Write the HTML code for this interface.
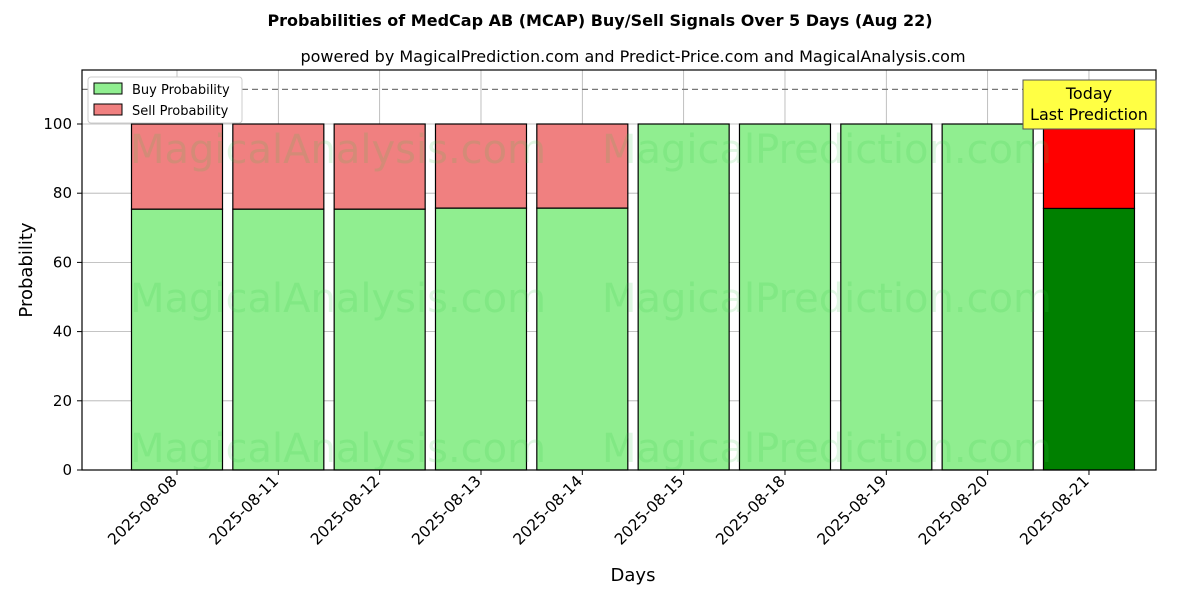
<!DOCTYPE html>
<html><head><meta charset="utf-8"><style>
body{margin:0;background:#fff;}
svg text{font-family:"DejaVu Sans","Liberation Sans",sans-serif;}
</style></head><body>
<svg id="chart" width="1200" height="600" xmlns="http://www.w3.org/2000/svg">
<text x="600" y="26" text-anchor="middle" font-size="16" font-weight="bold">Probabilities of MedCap AB (MCAP) Buy/Sell Signals Over 5 Days (Aug 22)</text>
<text x="633" y="62" text-anchor="middle" font-size="16">powered by MagicalPrediction.com and Predict-Price.com and MagicalAnalysis.com</text>
<g id="grid"></g>
<g id="bars"></g>
<g id="wm" fill="#2ecc40" fill-opacity="0.15" font-size="40">
<text x="130" y="163">MagicalAnalysis.com</text><text x="602" y="163">MagicalPrediction.com</text>
<text x="130" y="312">MagicalAnalysis.com</text><text x="602" y="312">MagicalPrediction.com</text>
<text x="130" y="462">MagicalAnalysis.com</text><text x="602" y="462">MagicalPrediction.com</text>
</g>
<line x1="82" x2="1156" y1="89.4" y2="89.4" stroke="#777" stroke-dasharray="6,4" stroke-width="1.2"/>
<rect x="82" y="70" width="1074" height="400" fill="none" stroke="#000" stroke-width="1.2"/>
<g id="ticks"></g>
<text x="633" y="581" text-anchor="middle" font-size="18">Days</text>
<text transform="translate(32,270) rotate(-90)" text-anchor="middle" font-size="18">Probability</text>
<g>
<rect x="88" y="77" width="154" height="46" fill="#fff" stroke="#ccc" rx="3"/>
<rect x="94" y="83" width="28" height="11" fill="#90ee90" stroke="#000"/>
<text x="132" y="94" font-size="13">Buy Probability</text>
<rect x="94" y="104" width="28" height="11" fill="#f08080" stroke="#000"/>
<text x="132" y="115" font-size="13">Sell Probability</text>
</g>
<g>
<rect x="1023" y="80" width="133" height="49" fill="#ffff44" stroke="#555"/>
<text x="1089" y="99" text-anchor="middle" font-size="16">Today</text>
<text x="1089" y="120" text-anchor="middle" font-size="16">Last Prediction</text>
</g>
</svg>
<script>
const categories=["2025-08-08","2025-08-11","2025-08-12","2025-08-13","2025-08-14","2025-08-15","2025-08-18","2025-08-19","2025-08-20","2025-08-21"];
const buyValues=[75.4,75.4,75.4,75.7,75.7,100,100,100,100,75.6];
const sellValues=[24.6,24.6,24.6,24.3,24.3,0,0,0,0,24.4];
const yTicks=[0,20,40,60,80,100];
const NS="http://www.w3.org/2000/svg";
const yS=v=>470-v*3.46;
const xS=i=>177+i*101.33;
function mk(p,tag,a){const e=document.createElementNS(NS,tag);for(const k in a)e.setAttribute(k,a[k]);p.appendChild(e);return e;}
const grid=document.getElementById('grid'),bars=document.getElementById('bars'),ticks=document.getElementById('ticks');
yTicks.forEach(v=>{
 const l=mk(grid,'line',{x1:82,x2:1156,y1:yS(v),y2:yS(v),stroke:'#b0b0b0','stroke-width':0.8});
 
 
 mk(ticks,'line',{x1:77,x2:82,y1:yS(v),y2:yS(v),stroke:'#000'});
 const t=mk(ticks,'text',{x:72,y:yS(v)+5,'text-anchor':'end','font-size':15});
 t.textContent=v;
 
 
});
categories.forEach((c,i)=>{
 const x=xS(i);
 const g=mk(grid,'line',{x1:x,x2:x,y1:70,y2:470,stroke:'#b0b0b0','stroke-width':0.8});
 
 
 const last=i===categories.length-1;
 const b=mk(bars,'rect',{x:x-45.5,y:yS(buyValues[i]),width:91,height:yS(0)-yS(buyValues[i]),fill:last?'#008000':'#90ee90',stroke:'#000','stroke-width':1.2});
 
 
 if(sellValues[i]>0){
  const s=mk(bars,'rect',{x:x-45.5,y:yS(buyValues[i]+sellValues[i]),width:91,height:yS(buyValues[i])-yS(buyValues[i]+sellValues[i]),fill:last?'#ff0000':'#f08080',stroke:'#000','stroke-width':1.2});
  
  
 }
 mk(ticks,'line',{x1:x,x2:x,y1:470,y2:475,stroke:'#000'});
 const t=mk(ticks,'text',{transform:`translate(${x+1},${482}) rotate(-45)`,'text-anchor':'end','font-size':15.5});
 t.textContent=c;
 
 
});
</script>
</body></html>
